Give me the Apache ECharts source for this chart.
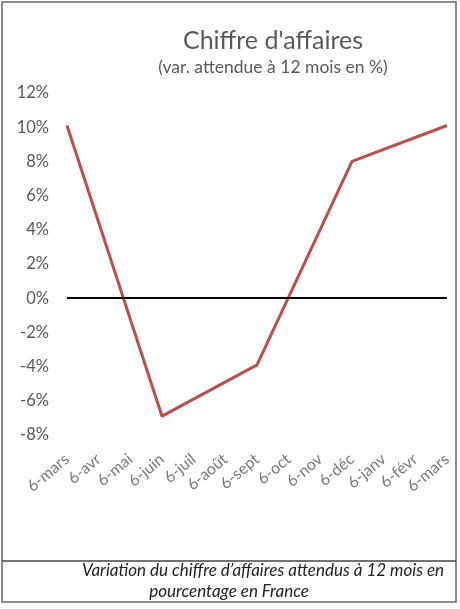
<!DOCTYPE html>
<html>
<head>
<meta charset="utf-8">
<script src="https://cdn.jsdelivr.net/npm/echarts@6/dist/echarts.min.js"></script>
<style>
  html, body { margin: 0; padding: 0; background: #fff; }
  #chart { width: 460px; height: 609px; }
</style>
</head>
<body>
<div id="chart"></div>
<script>
const months = ['6-mars', '6-avr', '6-mai', '6-juin', '6-juil', '6-août', '6-sept', '6-oct', '6-nov', '6-déc', '6-janv', '6-févr', '6-mars'];
// only quarterly readings, straight lines between them
const caVar = [10.1, null, null, -6.9, null, null, -3.9, null, null, 8.0, null, null, 10.1];
const yTicks = { min: -8, max: 12, step: 2 };
const captionLines = ["Variation du chiffre d’affaires attendus à 12 mois en", 'pourcentage en France'];

const chart = echarts.init(document.getElementById('chart'));
const font = 'Lato, "Open Sans", sans-serif';
const grey = '#595959';

chart.setOption({
  animation: false,
  textStyle: { fontFamily: font },
  title: {
    text: "Chiffre d'affaires",
    subtext: '(var. attendue à 12 mois en %)',
    left: 268,
    top: 23,
    textAlign: 'center',
    itemGap: 5,
    textStyle: { fontFamily: font, fontSize: 25, fontWeight: 'normal', color: grey },
    subtextStyle: { fontFamily: font, fontSize: 17.5, color: grey }
  },
  grid: { left: 67, right: 13, top: 93, bottom: 174, containLabel: false },
  xAxis: {
    type: 'category',
    data: months,
    boundaryGap: false,
    axisLine: { show: false },
    axisTick: { show: false },
    axisLabel: { rotate: 40, margin: 22, fontSize: 16, color: '#7a7a7a', interval: 0 }
  },
  yAxis: {
    type: 'value',
    min: yTicks.min,
    max: yTicks.max,
    interval: yTicks.step,
    axisLine: { show: false },
    axisTick: { show: false },
    splitLine: { show: false },
    axisLabel: { formatter: '{value}%', fontSize: 16.5, color: grey, margin: 18 }
  },
  series: [{
    name: "Chiffre d'affaires",
    type: 'line',
    data: caVar,
    connectNulls: true,
    showSymbol: false,
    lineStyle: { color: '#b9504c', width: 3 },
    markLine: {
      silent: true,
      symbol: 'none',
      label: { show: false },
      lineStyle: { color: '#000', width: 2, type: 'solid' },
      data: [{ yAxis: 0 }]
    }
  }],
  graphic: [
    { type: 'rect', shape: { x: 2, y: 2, width: 454, height: 600 }, style: { fill: 'none', stroke: '#666', lineWidth: 1.5 } },
    { type: 'line', shape: { x1: 2, y1: 561, x2: 456, y2: 561 }, style: { stroke: '#444', lineWidth: 1.5 } },
    { type: 'text', x: 263, y: 571, style: { text: captionLines[0], font: 'italic 17px ' + font, fill: '#222', align: 'center', verticalAlign: 'middle' } },
    { type: 'text', x: 229, y: 592, style: { text: captionLines[1], font: 'italic 17px ' + font, fill: '#222', align: 'center', verticalAlign: 'middle' } }
  ]
});
</script>
</body>
</html>
